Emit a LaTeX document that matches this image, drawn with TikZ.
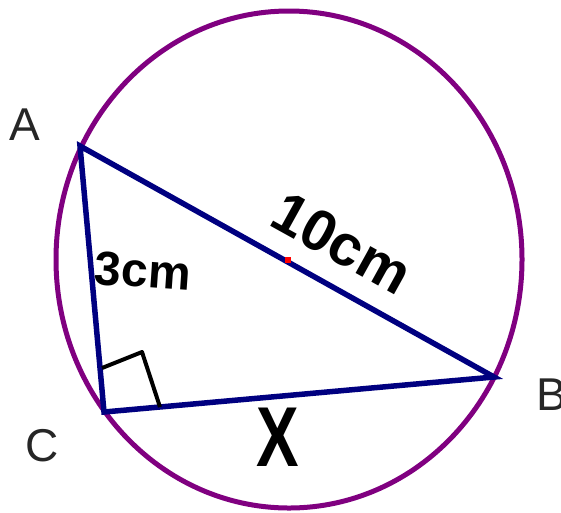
\documentclass[tikz,border=0pt]{standalone}
\usepackage{fontspec}
\setmainfont{Liberation Sans}
\begin{document}
\begin{tikzpicture}[x=1pt,y=-1pt,
  circ/.style={draw=circpurple,line width=5pt},
  side/.style={draw=navyline,line width=5.5pt,line join=miter},
  lbl/.style={font=\fontsize{46}{46}\selectfont,text=black!85,inner sep=0pt},
  hand/.style={font=\fontsize{#1}{#1}\selectfont\bfseries,text=black,inner sep=0pt},
  anglemark/.style={draw=black,line width=4pt,line join=round}]
\definecolor{circpurple}{RGB}{128,0,128}
\definecolor{navyline}{RGB}{0,0,128}
\useasboundingbox (0,0) rectangle (561,512);
\fill[white] (0,0) rectangle (561,512);
\coordinate (O) at (289,259.5);
\draw[circ] (O) ellipse [x radius=233, y radius=248.5];
\coordinate (A) at (80,146);
\coordinate (B) at (494,377);
\coordinate (C) at (104,412);
\draw[side] (A) -- (B) -- (C) -- cycle;
\coordinate (p1) at (102,368);
\coordinate (pc) at (142,352);
\coordinate (p2) at (160,407);
\draw[anglemark] (p1) -- (pc) -- (p2);
\fill[red] (285,257) rectangle (291,263);
\node[lbl] (la) at (25,125) {A};
\node[lbl,anchor=west] (lb) at (536,395) {B};
\node[lbl] (lc) at (42,446) {C};
\node[hand=58,rotate=-29] (ten) at (342,243) {10cm};
\node[hand=48,rotate=-4] (three) at (143,271) {3cm};
\node[hand=85,xscale=0.75] (x) at (278,437) {X};
\end{tikzpicture}
\end{document}
